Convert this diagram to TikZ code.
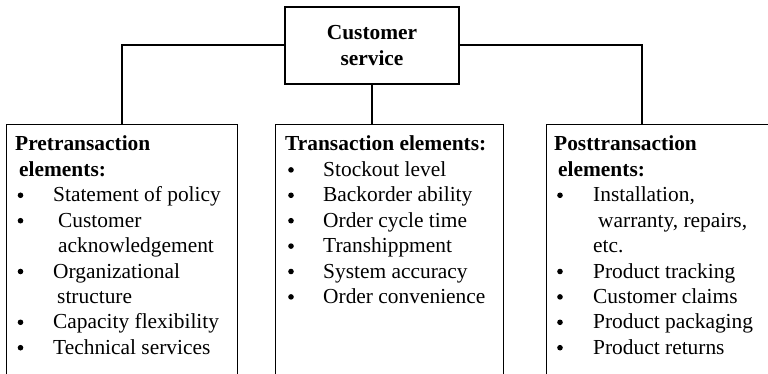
\documentclass[tikz,border=0pt]{standalone}
\usepackage{fontspec}
\setmainfont{Liberation Serif}
\usetikzlibrary{positioning}

\tikzset{
    box/.style={draw, line width=1.4pt, inner sep=0pt},
    link/.style={line width=2pt},
    txt/.style={anchor=base west, inner sep=0pt, font=\fontsize{21.4}{25}\selectfont},
    head/.style={txt, font=\bfseries\fontsize{21.4}{25}\selectfont},
    dot/.style={circle, fill, inner sep=0pt, minimum size=5.6pt},
}

\begin{document}
\begin{tikzpicture}[x=1pt, y=-1pt]

    % Page frame
    \useasboundingbox (0,0) rectangle (768,374);
    \clip (0,0) rectangle (768,374);

    \def\hbase{151}
    \def\lsep{25.4}
    \def\dotup{6.5}

    % Root box
    \node[box, minimum width=174pt, minimum height=77pt, align=center,
          font=\bfseries\fontsize{21.4}{26}\selectfont] (cs) at (372,45.5) {Customer\\service};

    % Element boxes (they run off the bottom of the page)
    \node[box, anchor=north west, minimum width=231pt, minimum height=300pt] (pre) at (6,124) {};
    \node[box, anchor=north west, minimum width=228pt, minimum height=300pt] (trn) at (275,124) {};
    \node[box, anchor=north west, minimum width=240pt, minimum height=300pt] (post) at (546,124) {};
    \coordinate (postTop) at (642,124);

    % Connectors
    \draw[link] (cs.west) -| (pre.north);
    \draw[link] (cs.south) -- (cs.south |- trn.north);
    \draw[link] (cs.east) -| (postTop);

    % Headings
    \node[head] (preHeadA) at (15,\hbase) {Pretransaction};
    \node[head] (preHeadB) at (19,{\hbase+\lsep}) {elements:};
    \node[head] (trnHead) at (285,\hbase) {Transaction elements:};
    \node[head] (postHeadA) at (554,\hbase) {Posttransaction};
    \node[head] (postHeadB) at (558,{\hbase+\lsep}) {elements:};

    % Pretransaction items
    \foreach \x/\txt [count=\i from 2] in {53/Statement of policy, 58/Customer, 58/acknowledgement,
            53/Organizational, 57/structure, 53/Capacity flexibility, 53/Technical services}
        \node[txt] (pre-\i) at (\x,{\hbase+\lsep*\i}) {\txt};
    \foreach \i in {2,3,5,7,8}
        \node[dot] (preDot-\i) at (20.5,{\hbase+\lsep*\i-\dotup}) {};

    % Transaction items
    \foreach \txt [count=\i] in {Stockout level, Backorder ability, Order cycle time,
            Transhippment, System accuracy, Order convenience}
        \node[txt] (trn-\i) at (323,{\hbase+\lsep*\i}) {\txt};
    \foreach \i in {1,...,6}
        \node[dot] (trnDot-\i) at (291,{\hbase+\lsep*\i-\dotup}) {};

    % Posttransaction items
    \foreach \x/\txt [count=\i from 2] in {593/{Installation,}, 598/{warranty, repairs,}, 593/etc.,
            593/Product tracking, 593/Customer claims, 593/Product packaging, 593/Product returns}
        \node[txt] (post-\i) at (\x,{\hbase+\lsep*\i}) {\txt};
    \foreach \i in {2,5,6,7,8}
        \node[dot] (postDot-\i) at (560,{\hbase+\lsep*\i-\dotup}) {};

\end{tikzpicture}
\end{document}
